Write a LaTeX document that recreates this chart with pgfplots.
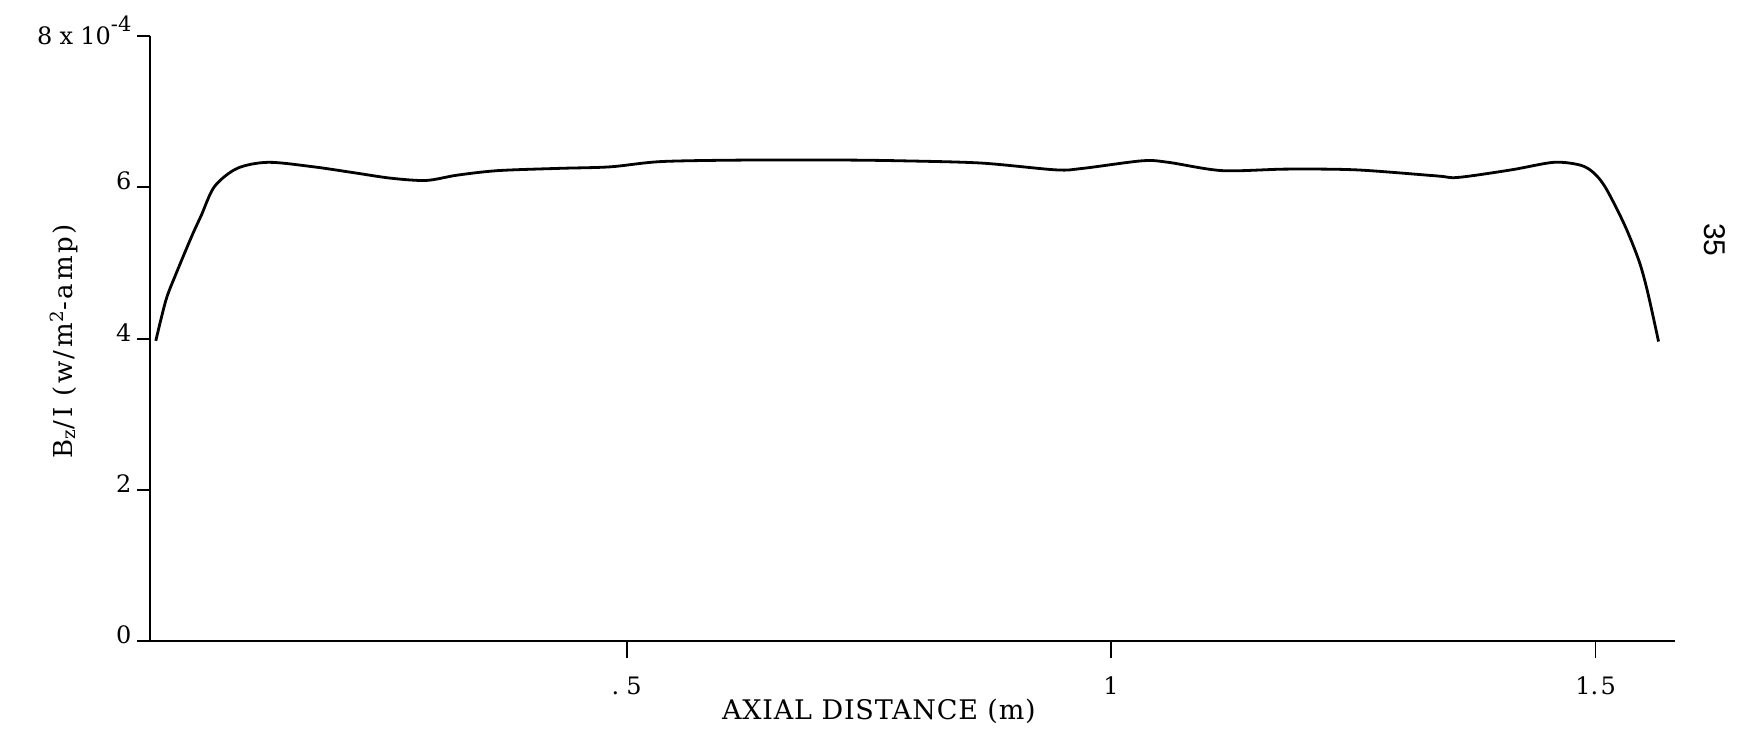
\documentclass[border=0pt]{standalone}
\usepackage{fontspec}
\setmainfont{DejaVu Serif}
\newfontfamily\lsfont[LetterSpace=3]{DejaVu Serif}
\newfontfamily\lsyfont[LetterSpace=10]{DejaVu Serif}
\newfontfamily\sansf{Liberation Sans}
\usepackage{pgfplots}
\pgfplotsset{compat=1.18}
\begin{document}
\begin{tikzpicture}
\useasboundingbox (-75pt,-43.5pt) rectangle (794.5pt,320.5pt);
\begin{axis}[
  at={(0,0)}, anchor=south west,
  scale only axis, width=762.5pt, height=302.5pt,
  xmin=0.008, xmax=1.582, ymin=0, ymax=8,
  axis lines=left,
  axis line style={-, line width=1.4pt},
  clip=false,
  tick align=outside,
  xtick={0.5,1,1.5},
  xticklabels={.\hspace{0.3em}5, 1, 1.\hspace{0.1em}5},
  ytick={0,2,4,6,8},
  yticklabels={0,2,4,6,{8\hspace{0.3em}x\hspace{0.3em}10\raisebox{0.55em}{\fontsize{10.5}{12}\selectfont -4}}},
  xtick style={black, line width=0.9pt, /pgfplots/major tick length=8.5pt},
  ytick style={black, line width=1pt, /pgfplots/major tick length=6.5pt},
  /pgf/number format/assume math mode=true,
  tick label style={font=\fontsize{12}{14}\selectfont},
  xticklabel style={yshift=-10pt},
  yticklabel style={xshift=-1.5pt, yshift=3pt},
  xlabel={AXIAL DISTANCE (m)},
  xlabel style={font=\lsfont\fontsize{13.5}{16}\selectfont, at={(axis description cs:0.478,-0.1157)}, anchor=center},
  ylabel={B\textsubscript{z}/I (w/m\textsuperscript{2}-amp)},
  ylabel style={font=\lsyfont\fontsize{13}{15}\selectfont, at={(axis description cs:-0.0565,0.495)}, anchor=center},
]
\addplot[black, line width=1.4pt, smooth] coordinates {
(0.014,3.97) (0.0245,4.51) (0.035,4.86) (0.051,5.35) (0.061,5.63) (0.0746,6.01)
(0.098,6.25) (0.130,6.33) (0.177,6.27) (0.2196,6.19) (0.2565,6.12) (0.293,6.09)
(0.325,6.16) (0.367,6.22) (0.4305,6.25) (0.483,6.27) (0.536,6.34) (0.626,6.36)
(0.7205,6.36) (0.783,6.35) (0.866,6.32) (0.943,6.23) (0.971,6.25) (1.032,6.35)
(1.059,6.33) (1.1145,6.22) (1.181,6.24) (1.253,6.23) (1.336,6.15) (1.358,6.13)
(1.413,6.23) (1.457,6.33) (1.485,6.29) (1.499,6.18) (1.511,5.98) (1.530,5.50)
(1.545,5.02) (1.554,4.60) (1.565,3.96)
};
\node[font=\sansf\fontsize{15}{15}\selectfont, rotate=-90] at (rel axis cs:1.026,0.663) {35};
\end{axis}
\end{tikzpicture}
\end{document}
